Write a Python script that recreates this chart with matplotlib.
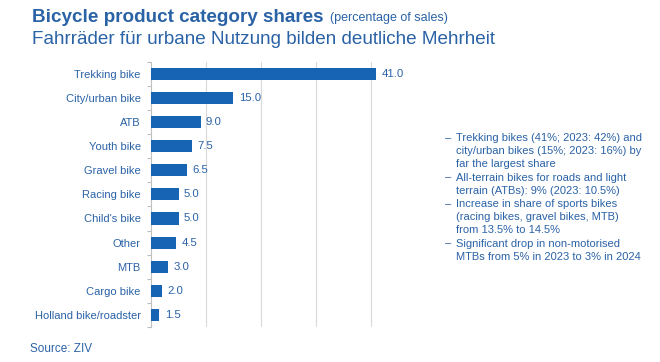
import matplotlib.pyplot as plt

plt.rcParams['font.family'] = ['Liberation Sans', 'DejaVu Sans']

# Daten (Anteil am Umsatz, %)
kategorien = ["Trekking bike", "City/urban bike", "ATB", "Youth bike", "Gravel bike",
              "Racing bike", "Child's bike", "Other", "MTB", "Cargo bike",
              "Holland bike/roadster"]
anteile = [41.0, 15.0, 9.0, 7.5, 6.5, 5.0, 5.0, 4.5, 3.0, 2.0, 1.5]

stichpunkte = [
    "Trekking bikes (41%; 2023: 42%) and\ncity/urban bikes (15%; 2023: 16%) by\nfar the largest share",
    "All-terrain bikes for roads and light\nterrain (ATBs): 9% (2023: 10.5%)",
    "Increase in share of sports bikes\n(racing bikes, gravel bikes, MTB)\nfrom 13.5% to 14.5%",
    "Significant drop in non-motorised\nMTBs from 5% in 2023 to 3% in 2024",
]

blau = "#1763b4"
text_blau = "#2a62a6"

fig = plt.figure(figsize=(6.6, 3.62), dpi=100)
ax = fig.add_axes([0.229, 0.097, 0.374, 0.732])

y = list(range(len(kategorien)))
ax.barh(y, anteile, height=0.5, color=blau, zorder=3)
for yi, v in zip(y, anteile):
    ax.text(v + 1.0, yi, f"{v:.1f}", va="center", ha="left", fontsize=8.2, color=text_blau)

ax.set_yticks(y)
ax.set_yticklabels(kategorien, fontsize=8.0, color=text_blau)
ax.set_ylim(len(kategorien) - 0.5, -0.5)
ax.set_xlim(0, 45)
ax.set_xticks([10, 20, 30, 40])
ax.tick_params(axis="x", length=0, labelbottom=False)
ax.tick_params(axis="y", length=0, pad=7.5)
ax.xaxis.grid(True, color="#d9d9d9", linewidth=0.8, zorder=0)
# kleine Striche zwischen den Kategorien
ax.set_yticks([i + 0.5 for i in range(-1, len(kategorien))], minor=True)
ax.tick_params(axis="y", which="minor", length=3, color="#bfbfbf", width=0.8)
for s in ["top", "right", "bottom"]:
    ax.spines[s].set_visible(False)
ax.spines["left"].set_color("#bfbfbf")
ax.spines["left"].set_linewidth(0.8)

# Titel
t = fig.text(32 / 660, 1 - 17 / 362, "Bicycle product category shares", fontsize=13.6,
             fontweight="bold", color=text_blau, va="center", ha="left")
fig.canvas.draw()
bb = t.get_window_extent()
fig.text((bb.x1 + 6) / 660, 1 - 18 / 362, "(percentage of sales)", fontsize=9,
         color=text_blau, va="center", ha="left")
fig.text(32 / 660, 1 - 39 / 362, "Fahrräder für urbane Nutzung bilden deutliche Mehrheit",
         fontsize=13.6, color=text_blau, va="center", ha="left")

# Stichpunkte rechts
zeile = 13.2
ypos = 138
for p in stichpunkte:
    fig.text(445 / 660, 1 - ypos / 362, "–", fontsize=8.0, color=text_blau, va="center")
    for z in p.split("\n"):
        fig.text(456 / 660, 1 - ypos / 362, z, fontsize=8.0, color=text_blau, va="center")
        ypos += zeile

fig.text(30 / 660, 1 - 349 / 362, "Source: ZIV", fontsize=8.5, color=text_blau, va="center")

fig.savefig("out.png", dpi=100)
